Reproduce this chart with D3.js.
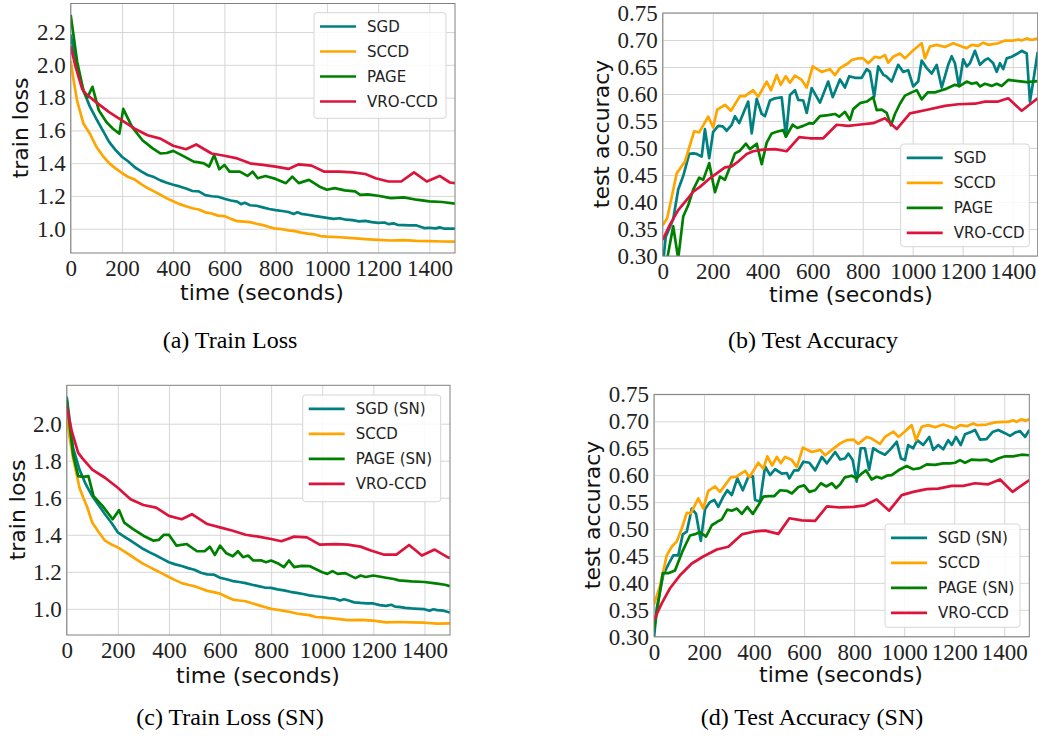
<!DOCTYPE html>
<html>
<head>
<meta charset="utf-8">
<script src="https://d3js.org/d3.v7.min.js"></script>
<style>
  body { margin: 0; background: #fff; }
  svg { display: block; }
  .tick text { font-family: "Liberation Serif", serif; font-size: 23px; fill: #222; }
  .lab { font-family: "DejaVu Sans", sans-serif; font-size: 22px; fill: #111; }
  .leg { font-family: "DejaVu Sans", sans-serif; font-size: 15px; fill: #222; }
  .cap { font-family: "Liberation Serif", serif; font-size: 24px; fill: #000; }
</style>
</head>
<body>
<script>
// ---- data: [time (s), value] ----
const timeTicks = [0, 200, 400, 600, 800, 1000, 1200, 1400]
const lossTicksA = [1.0, 1.2, 1.4, 1.6, 1.8, 2.0, 2.2]
const lossTicksC = [1.0, 1.2, 1.4, 1.6, 1.8, 2.0]
const accTicks = [0.30, 0.35, 0.40, 0.45, 0.50, 0.55, 0.60, 0.65, 0.70, 0.75]
const colors = ['#008080', '#FFA500', '#008000', '#DC143C']

const lossA_sgd = [[0,2.184],[25,1.98],[50,1.84],[75,1.745],[100,1.67],[125,1.6],[150,1.53],[175,1.48],[200,1.439],[225,1.41],[250,1.375],[275,1.35],[300,1.328],[325,1.315],[350,1.295],[375,1.28],[400,1.268],[425,1.258],[450,1.245],[475,1.23],[500,1.228],[525,1.205],[550,1.198],[575,1.195],[600,1.183],[625,1.172],[650,1.165],[665,1.15],[680,1.158],[700,1.143],[725,1.14],[750,1.13],[775,1.12],[800,1.113],[825,1.108],[850,1.102],[870,1.09],[885,1.1],[900,1.091],[925,1.085],[950,1.078],[975,1.072],[1000,1.066],[1025,1.06],[1050,1.064],[1075,1.055],[1100,1.052],[1125,1.045],[1150,1.048],[1175,1.04],[1200,1.036],[1225,1.038],[1240,1.028],[1260,1.033],[1275,1.024],[1300,1.022],[1325,1.02],[1350,1.02],[1365,1.012],[1380,1.004],[1400,1.006],[1425,1.002],[1440,1.008],[1460,1.0],[1480,1.0],[1500,1.0]]
const lossA_sccd = [[0,2.023],[12,1.9],[25,1.78],[50,1.64],[75,1.58],[100,1.5],[125,1.445],[150,1.4],[175,1.368],[200,1.34],[225,1.315],[250,1.3],[275,1.272],[300,1.248],[325,1.228],[350,1.207],[375,1.185],[400,1.167],[425,1.15],[450,1.137],[475,1.125],[500,1.117],[525,1.1],[550,1.093],[575,1.08],[600,1.077],[625,1.06],[650,1.046],[675,1.043],[700,1.04],[725,1.03],[750,1.022],[775,1.01],[800,1.0],[825,0.997],[850,0.99],[875,0.985],[900,0.976],[925,0.97],[950,0.966],[975,0.955],[1000,0.952],[1050,0.948],[1100,0.942],[1150,0.937],[1200,0.932],[1250,0.928],[1300,0.93],[1350,0.926],[1400,0.924],[1450,0.922],[1500,0.921]]
const lossA_page = [[0,2.305],[25,2.02],[50,1.84],[65,1.8],[85,1.866],[110,1.721],[140,1.65],[165,1.61],[190,1.58],[205,1.731],[240,1.62],[280,1.54],[320,1.49],[350,1.459],[375,1.462],[400,1.475],[440,1.443],[480,1.409],[500,1.405],[520,1.399],[540,1.379],[560,1.449],[580,1.363],[600,1.389],[620,1.348],[660,1.348],[690,1.322],[710,1.348],[730,1.308],[760,1.322],[800,1.304],[840,1.278],[865,1.318],[890,1.278],[930,1.298],[970,1.258],[1000,1.238],[1030,1.248],[1070,1.234],[1110,1.228],[1130,1.207],[1160,1.21],[1200,1.201],[1250,1.187],[1300,1.191],[1350,1.177],[1400,1.167],[1450,1.163],[1500,1.153]]
const lossA_vro = [[0,2.114],[20,1.983],[45,1.852],[60,1.822],[100,1.771],[150,1.711],[200,1.661],[250,1.61],[300,1.57],[350,1.55],[400,1.506],[450,1.485],[490,1.514],[550,1.459],[600,1.445],[650,1.429],[700,1.399],[750,1.389],[800,1.379],[850,1.365],[890,1.393],[940,1.385],[990,1.348],[1050,1.348],[1100,1.344],[1150,1.334],[1190,1.308],[1240,1.288],[1290,1.288],[1340,1.344],[1390,1.288],[1440,1.322],[1480,1.282],[1500,1.278]]

const accB_sgd = [[0,0.28],[12,0.335],[42,0.368],[62,0.423],[82,0.448],[106,0.489],[122,0.49],[136,0.489],[156,0.484],[169,0.535],[186,0.481],[202,0.53],[222,0.541],[240,0.54],[256,0.532],[276,0.543],[289,0.559],[306,0.546],[322,0.564],[342,0.586],[356,0.527],[376,0.591],[396,0.563],[409,0.559],[429,0.588],[449,0.592],[476,0.594],[493,0.521],[509,0.598],[529,0.607],[542,0.589],[562,0.588],[576,0.565],[596,0.611],[629,0.584],[662,0.623],[680,0.594],[709,0.627],[729,0.612],[746,0.633],[769,0.63],[796,0.63],[816,0.646],[829,0.641],[846,0.595],[862,0.651],[882,0.636],[896,0.632],[916,0.623],[942,0.654],[962,0.641],[982,0.644],[1002,0.614],[1022,0.623],[1036,0.662],[1056,0.648],[1076,0.638],[1096,0.654],[1116,0.612],[1142,0.654],[1156,0.67],[1169,0.657],[1185,0.614],[1202,0.664],[1216,0.651],[1229,0.657],[1249,0.68],[1269,0.654],[1289,0.663],[1302,0.666],[1322,0.657],[1336,0.641],[1349,0.657],[1362,0.646],[1376,0.666],[1396,0.669],[1416,0.674],[1436,0.68],[1456,0.675],[1469,0.586],[1482,0.623],[1500,0.678]]
const accB_sccd = [[0,0.357],[18,0.37],[56,0.453],[89,0.475],[126,0.531],[146,0.529],[182,0.558],[202,0.538],[218,0.571],[249,0.58],[273,0.569],[309,0.596],[329,0.596],[362,0.607],[382,0.595],[416,0.623],[433,0.607],[456,0.635],[472,0.617],[492,0.633],[509,0.621],[529,0.634],[556,0.626],[576,0.612],[600,0.651],[636,0.641],[669,0.646],[689,0.635],[709,0.648],[742,0.657],[756,0.663],[782,0.666],[802,0.666],[822,0.657],[849,0.669],[869,0.667],[889,0.672],[902,0.658],[922,0.669],[949,0.675],[969,0.666],[1002,0.681],[1036,0.694],[1049,0.666],[1069,0.688],[1096,0.691],[1129,0.687],[1162,0.694],[1196,0.688],[1216,0.685],[1236,0.691],[1262,0.689],[1282,0.695],[1302,0.691],[1342,0.694],[1369,0.699],[1402,0.699],[1422,0.701],[1436,0.699],[1456,0.703],[1476,0.7],[1500,0.703]]
const accB_page = [[0,0.25],[42,0.355],[62,0.295],[82,0.373],[102,0.394],[122,0.423],[146,0.445],[162,0.441],[186,0.472],[209,0.418],[229,0.447],[249,0.441],[269,0.465],[289,0.49],[309,0.495],[333,0.508],[349,0.498],[376,0.508],[396,0.47],[416,0.51],[436,0.527],[456,0.53],[482,0.533],[493,0.521],[520,0.543],[538,0.537],[562,0.541],[586,0.546],[602,0.545],[629,0.559],[662,0.561],[689,0.563],[706,0.558],[729,0.567],[749,0.552],[762,0.572],[789,0.583],[816,0.586],[842,0.594],[856,0.57],[876,0.571],[896,0.565],[913,0.542],[929,0.563],[949,0.582],[969,0.597],[996,0.603],[1016,0.607],[1036,0.59],[1060,0.603],[1089,0.603],[1116,0.607],[1136,0.61],[1169,0.617],[1189,0.615],[1216,0.623],[1236,0.619],[1256,0.621],[1269,0.614],[1289,0.619],[1316,0.615],[1336,0.619],[1356,0.615],[1382,0.626],[1422,0.624],[1456,0.622],[1500,0.624]]
const accB_vro = [[0,0.33],[29,0.358],[62,0.385],[96,0.404],[122,0.419],[149,0.428],[189,0.444],[216,0.453],[249,0.464],[276,0.466],[302,0.475],[336,0.489],[362,0.494],[402,0.497],[449,0.498],[496,0.494],[546,0.52],[589,0.518],[642,0.518],[696,0.543],[742,0.541],[782,0.543],[842,0.546],[889,0.555],[936,0.535],[989,0.564],[1049,0.57],[1129,0.578],[1182,0.581],[1249,0.582],[1289,0.586],[1342,0.586],[1382,0.592],[1436,0.569],[1500,0.592]]

const lossC_sgd = [[0,2.146],[25,1.869],[50,1.752],[75,1.672],[100,1.609],[125,1.56],[150,1.511],[175,1.465],[200,1.413],[225,1.39],[250,1.368],[275,1.345],[300,1.323],[325,1.305],[350,1.288],[375,1.27],[400,1.252],[425,1.24],[450,1.231],[475,1.22],[500,1.211],[525,1.195],[550,1.186],[575,1.185],[600,1.168],[625,1.16],[650,1.15],[675,1.145],[700,1.139],[725,1.13],[750,1.123],[775,1.115],[800,1.113],[825,1.105],[850,1.1],[875,1.092],[900,1.086],[925,1.08],[950,1.073],[975,1.068],[1000,1.064],[1025,1.058],[1050,1.055],[1070,1.045],[1085,1.052],[1100,1.046],[1125,1.035],[1150,1.032],[1175,1.03],[1200,1.029],[1225,1.02],[1250,1.016],[1270,1.022],[1285,1.012],[1300,1.011],[1325,1.005],[1350,1.002],[1375,1.0],[1400,0.998],[1420,0.99],[1435,0.998],[1450,0.993],[1475,0.99],[1500,0.98]]
const lossC_sccd = [[0,2.03],[12,1.92],[25,1.815],[50,1.654],[65,1.6],[80,1.55],[100,1.466],[125,1.415],[150,1.368],[175,1.348],[200,1.332],[225,1.31],[250,1.288],[275,1.265],[300,1.243],[325,1.225],[350,1.207],[375,1.19],[400,1.172],[425,1.155],[450,1.139],[475,1.13],[500,1.122],[525,1.11],[550,1.097],[575,1.09],[600,1.082],[625,1.065],[650,1.05],[675,1.045],[700,1.041],[725,1.03],[750,1.02],[775,1.01],[800,1.0],[825,0.995],[850,0.989],[875,0.983],[900,0.975],[925,0.97],[950,0.966],[975,0.956],[1000,0.954],[1050,0.947],[1100,0.939],[1150,0.94],[1200,0.936],[1250,0.927],[1300,0.929],[1350,0.927],[1400,0.925],[1450,0.92],[1500,0.921]]
const lossC_page = [[0,2.128],[25,1.833],[45,1.717],[65,1.713],[85,1.717],[105,1.609],[140,1.556],[180,1.484],[205,1.533],[225,1.466],[260,1.431],[300,1.395],[340,1.368],[360,1.372],[380,1.4],[400,1.4],[430,1.341],[470,1.35],[510,1.311],[540,1.311],[560,1.336],[580,1.291],[600,1.341],[625,1.3],[650,1.284],[670,1.311],[690,1.279],[710,1.288],[730,1.261],[760,1.262],[780,1.252],[800,1.261],[830,1.243],[850,1.225],[870,1.261],[890,1.225],[920,1.232],[950,1.231],[1000,1.198],[1020,1.189],[1040,1.204],[1060,1.189],[1090,1.193],[1130,1.166],[1150,1.18],[1170,1.172],[1200,1.18],[1250,1.168],[1280,1.161],[1300,1.154],[1350,1.148],[1400,1.145],[1450,1.136],[1480,1.13],[1500,1.122]]
const lossC_vro = [[0,2.092],[20,1.958],[45,1.842],[60,1.815],[100,1.752],[150,1.708],[200,1.654],[250,1.592],[300,1.561],[350,1.547],[400,1.502],[450,1.484],[490,1.511],[550,1.458],[600,1.44],[650,1.422],[700,1.4],[750,1.39],[800,1.377],[840,1.365],[890,1.39],[940,1.386],[990,1.347],[1050,1.35],[1100,1.347],[1150,1.336],[1190,1.315],[1240,1.293],[1290,1.293],[1340,1.345],[1390,1.288],[1440,1.32],[1490,1.279],[1500,1.275]]

const accD_sgd = [[0,0.297],[11,0.353],[37,0.415],[57,0.434],[77,0.451],[97,0.451],[115,0.49],[131,0.495],[151,0.538],[168,0.528],[187,0.478],[204,0.537],[224,0.55],[241,0.554],[257,0.541],[277,0.56],[293,0.572],[311,0.563],[333,0.594],[355,0.572],[377,0.597],[395,0.598],[404,0.554],[424,0.551],[444,0.616],[464,0.6],[484,0.611],[511,0.603],[531,0.604],[541,0.594],[560,0.609],[577,0.609],[597,0.625],[621,0.623],[644,0.609],[671,0.634],[691,0.622],[724,0.643],[744,0.629],[763,0.631],[777,0.64],[794,0.628],[810,0.588],[826,0.65],[843,0.65],[860,0.61],[876,0.65],[896,0.644],[923,0.638],[943,0.647],[970,0.662],[987,0.631],[1003,0.628],[1016,0.656],[1036,0.65],[1052,0.665],[1076,0.656],[1100,0.671],[1116,0.647],[1136,0.656],[1156,0.648],[1176,0.665],[1190,0.656],[1207,0.671],[1226,0.656],[1243,0.676],[1266,0.68],[1283,0.684],[1303,0.666],[1329,0.667],[1353,0.68],[1376,0.684],[1403,0.678],[1423,0.673],[1443,0.679],[1463,0.682],[1483,0.671],[1500,0.684]]
const accD_sccd = [[0,0.36],[24,0.394],[51,0.451],[71,0.467],[91,0.477],[111,0.501],[131,0.53],[147,0.529],[177,0.557],[197,0.538],[217,0.571],[244,0.579],[264,0.569],[307,0.596],[328,0.597],[364,0.608],[381,0.596],[417,0.623],[437,0.612],[453,0.635],[472,0.618],[491,0.634],[507,0.622],[524,0.634],[551,0.628],[571,0.615],[595,0.651],[631,0.643],[664,0.647],[684,0.637],[711,0.647],[744,0.659],[770,0.665],[797,0.666],[817,0.658],[837,0.666],[850,0.671],[870,0.668],[903,0.658],[923,0.671],[957,0.681],[977,0.671],[1003,0.681],[1030,0.693],[1047,0.665],[1070,0.69],[1096,0.693],[1123,0.689],[1156,0.694],[1183,0.69],[1203,0.687],[1223,0.693],[1250,0.691],[1276,0.696],[1290,0.693],[1329,0.694],[1363,0.698],[1396,0.699],[1416,0.699],[1436,0.702],[1449,0.699],[1469,0.704],[1483,0.701],[1500,0.704]]
const accD_page = [[0,0.312],[35,0.418],[57,0.418],[84,0.423],[115,0.46],[144,0.488],[168,0.491],[184,0.494],[208,0.486],[231,0.507],[251,0.513],[271,0.518],[293,0.536],[311,0.534],[331,0.538],[351,0.528],[373,0.541],[395,0.528],[417,0.544],[437,0.56],[458,0.561],[480,0.561],[504,0.572],[531,0.571],[551,0.566],[577,0.578],[600,0.581],[621,0.569],[644,0.572],[667,0.585],[688,0.579],[711,0.585],[728,0.576],[744,0.583],[763,0.596],[790,0.599],[810,0.594],[830,0.603],[847,0.609],[870,0.592],[890,0.597],[910,0.594],[930,0.599],[950,0.6],[977,0.609],[1010,0.617],[1036,0.611],[1063,0.613],[1090,0.62],[1123,0.619],[1156,0.622],[1183,0.622],[1203,0.623],[1223,0.628],[1243,0.623],[1270,0.629],[1303,0.628],[1329,0.629],[1349,0.625],[1376,0.631],[1403,0.635],[1436,0.635],[1469,0.638],[1500,0.637]]
const accD_vro = [[0,0.331],[31,0.362],[64,0.39],[104,0.414],[151,0.436],[197,0.449],[251,0.462],[297,0.467],[351,0.49],[397,0.495],[444,0.497],[497,0.491],[541,0.52],[591,0.516],[644,0.515],[691,0.542],[744,0.54],[797,0.541],[843,0.544],[890,0.555],[940,0.534],[990,0.563],[1036,0.569],[1090,0.574],[1136,0.575],[1190,0.58],[1236,0.58],[1283,0.585],[1336,0.583],[1383,0.592],[1433,0.569],[1500,0.591]]

const namesA = ['SGD', 'SCCD', 'PAGE', 'VRO-CCD']
const namesSN = ['SGD (SN)', 'SCCD', 'PAGE (SN)', 'VRO-CCD']

// padded extent like matplotlib autoscale
function padded(series) {
  const all = series.flat()
  const lo = d3.min(all, d => d[1]), hi = d3.max(all, d => d[1])
  const m = (hi - lo) * 0.05
  return [lo - m, hi + m]
}

const panels = [
  {box: [70.7, 455, 3.5, 253], series: [lossA_sgd, lossA_sccd, lossA_page, lossA_vro], names: namesA,
   yDomain: padded([lossA_sgd, lossA_sccd, lossA_page, lossA_vro]), yTicks: lossTicksA, fmt: '.1f',
   ylabel: 'train loss', ylab: [28, 128], xlab: [262, 300],
   legend: [314, 12.7, 132, 105.6], caption: '(a) Train Loss', cap: [230, 348]},
  {box: [662.7, 1037.7, 13, 256], series: [accB_sgd, accB_sccd, accB_page, accB_vro], names: namesA,
   yDomain: [0.30, 0.75], yTicks: accTicks, fmt: '.2f',
   ylabel: 'test accuracy', ylab: [609, 134], xlab: [851, 302],
   legend: [900.7, 144, 128.6, 102.7], caption: '(b) Test Accuracy', cap: [813, 348]},
  {box: [66.7, 450, 385.3, 635], series: [lossC_sgd, lossC_sccd, lossC_page, lossC_vro], names: namesSN,
   yDomain: padded([lossC_sgd, lossC_sccd, lossC_page, lossC_vro]), yTicks: lossTicksC, fmt: '.1f',
   ylabel: 'train loss', ylab: [25, 510], xlab: [258, 683],
   legend: [302.7, 395, 138, 106.7], caption: '(c) Train Loss (SN)', cap: [230, 725]},
  {box: [654, 1029.3, 394.4, 636.7], series: [accD_sgd, accD_sccd, accD_page, accD_vro], names: namesSN,
   yDomain: [0.30, 0.75], yTicks: accTicks, fmt: '.2f',
   ylabel: 'test accuracy', ylab: [600, 515], xlab: [841, 682],
   legend: [885, 524, 135, 103.3], caption: '(d) Test Accuracy (SN)', cap: [812, 725]}
]

const svg = d3.select('body').append('svg').attr('width', 1038).attr('height', 738)

panels.forEach((p, pi) => {
  const [l, r, t, b] = p.box
  const x = d3.scaleLinear().domain([0, 1500]).range([l, r])
  const y = d3.scaleLinear().domain(p.yDomain).range([b, t])
  const g = svg.append('g')

  // grid
  g.append('g').attr('transform', `translate(0,${b})`)
    .call(d3.axisBottom(x).tickValues(timeTicks).tickSize(-(b - t)).tickFormat(''))
    .call(s => s.select('.domain').remove())
    .selectAll('line').attr('stroke', '#d6d6d6').attr('stroke-width', 1)
  g.append('g').attr('transform', `translate(${l},0)`)
    .call(d3.axisLeft(y).tickValues(p.yTicks).tickSize(-(r - l)).tickFormat(''))
    .call(s => s.select('.domain').remove())
    .selectAll('line').attr('stroke', '#d6d6d6').attr('stroke-width', 1)

  // tick labels
  g.append('g').attr('transform', `translate(0,${b})`)
    .call(d3.axisBottom(x).tickValues(timeTicks).tickSize(0).tickPadding(7).tickFormat(d3.format('d')))
    .call(s => s.select('.domain').remove())
    .selectAll('text').attr('font-family', null).attr('font-size', null)
  g.append('g').attr('transform', `translate(${l},0)`)
    .call(d3.axisLeft(y).tickValues(p.yTicks).tickSize(0).tickPadding(5).tickFormat(d3.format(p.fmt)))
    .call(s => s.select('.domain').remove())
    .selectAll('text').attr('font-family', null).attr('font-size', null)

  // lines
  const clipId = 'clip' + pi
  g.append('clipPath').attr('id', clipId).append('rect')
    .attr('x', l).attr('y', t).attr('width', r - l).attr('height', b - t)
  const line = d3.line().x(d => x(d[0])).y(d => y(d[1]))
  g.append('g').attr('clip-path', `url(#${clipId})`)
    .selectAll('path').data(p.series).join('path')
    .attr('d', line).attr('fill', 'none')
    .attr('stroke', (d, i) => colors[i]).attr('stroke-width', 2.7)
    .attr('stroke-linejoin', 'round')

  // frame
  g.append('rect').attr('x', l).attr('y', t).attr('width', r - l).attr('height', b - t)
    .attr('fill', 'none').attr('stroke', '#808080').attr('stroke-width', 1)

  // axis labels
  g.append('text').attr('class', 'lab').attr('text-anchor', 'middle')
    .attr('x', p.xlab[0]).attr('y', p.xlab[1]).text('time (seconds)')
  g.append('text').attr('class', 'lab').attr('text-anchor', 'middle')
    .attr('transform', `translate(${p.ylab[0]},${p.ylab[1]}) rotate(-90)`).text(p.ylabel)

  // legend
  const [lx, ly, lw, lh] = p.legend
  const leg = g.append('g')
  leg.append('rect').attr('x', lx).attr('y', ly).attr('width', lw).attr('height', lh)
    .attr('rx', 3).attr('fill', 'rgba(255,255,255,0.85)').attr('stroke', '#d6d6d6')
  p.names.forEach((n, i) => {
    const yy = ly + 13.8 + i * 25
    leg.append('line').attr('x1', lx + 6).attr('x2', lx + 42).attr('y1', yy).attr('y2', yy)
      .attr('stroke', colors[i]).attr('stroke-width', 2.7)
    leg.append('text').attr('class', 'leg').attr('x', lx + 53).attr('y', yy + 5.5).text(n)
  })

  // caption
  svg.append('text').attr('class', 'cap').attr('text-anchor', 'middle')
    .attr('x', p.cap[0]).attr('y', p.cap[1]).text(p.caption)
})
</script>
</body>
</html>
